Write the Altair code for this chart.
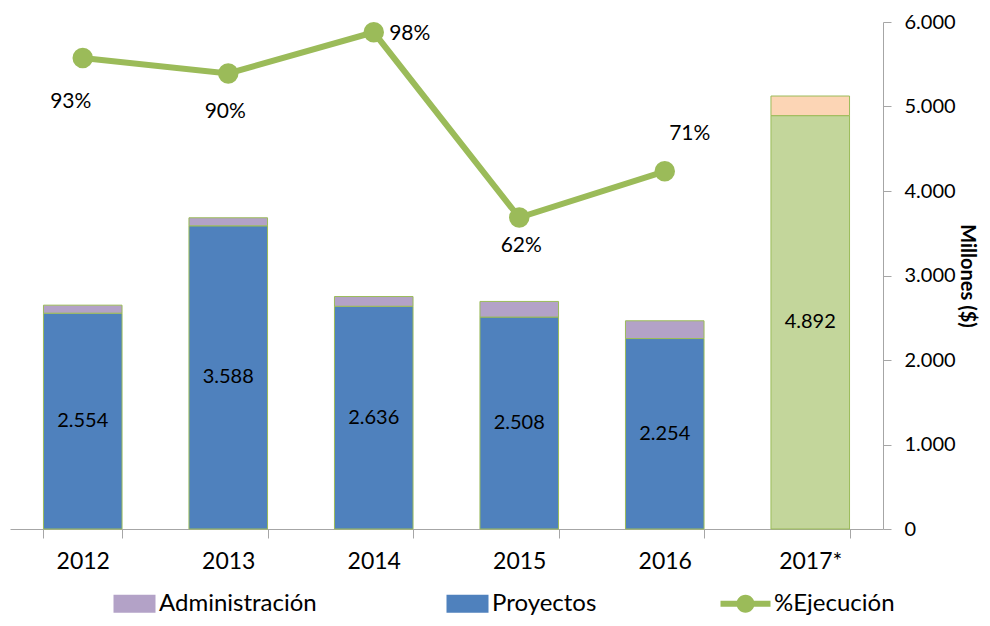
import altair as alt
import pandas as pd

# ---- data ----
years = ["2012", "2013", "2014", "2015", "2016", "2017*"]
proyectos = [2554, 3588, 2636, 2508, 2254, 4892]
administracion = [95, 95, 115, 185, 210, 232]
ejec_years = ["2012", "2013", "2014", "2015", "2016"]
ejecucion = [0.93, 0.90, 0.98, 0.62, 0.71]
ejec_labels = ["93%", "90%", "98%", "62%", "71%"]
y_ticks = [0, 1000, 2000, 3000, 4000, 5000, 6000]

legend_series = ["Administración", "Proyectos", "%Ejecución"]
color_domain = ["Administración", "Proyectos", "%Ejecución",
                "Administración 2017", "Proyectos 2017"]
color_range = ["#B3A2C7", "#4F81BD", "#9BBB59", "#FCD5B5", "#C3D69B"]

RECT = "M-0.68,-0.36H1V0.36H-0.68Z"
LINESYM = "M-1,-0.12H1V0.12H-1Z M0.36,0A0.36,0.36,0,1,1,-0.36,0A0.36,0.36,0,1,1,0.36,0Z"
shape_range = [RECT, RECT, LINESYM, RECT, RECT]

FONT = "Lato"
GRAY = "#A6A6A6"
GREEN = "#9BBB59"

# ---- tables ----
rows = []
for y, p, a in zip(years, proyectos, administracion):
    suffix = " 2017" if y == "2017*" else ""
    rows.append({"year": y, "serie": "Proyectos" + suffix, "value": p, "ord": 1, "base": "Proyectos"})
    rows.append({"year": y, "serie": "Administración" + suffix, "value": a, "ord": 2, "base": "Administración"})
bars_df = pd.DataFrame(rows)

line_df = pd.DataFrame({"year": ejec_years, "pct": ejecucion, "label": ejec_labels,
                        "serie": ["%Ejecución"] * len(ejec_years)})

legend = alt.Legend(
    title=None, orient="none", legendX=95, legendY=556, direction="horizontal",
    values=legend_series, symbolSize=2500, symbolOpacity=1,
    symbolStrokeColor=GREEN, symbolStrokeWidth=1,
    labelFont=FONT, labelFontSize=24, labelColor="#000000",
    columnPadding=121, labelOffset=3, padding=0,
)
color = alt.Color("serie:N", scale=alt.Scale(domain=color_domain, range=color_range), legend=legend)
shape = alt.Shape("serie:N", scale=alt.Scale(domain=color_domain, range=shape_range), legend=legend)

x = alt.X(
    "year:N", sort=years,
    scale=alt.Scale(paddingInner=0.46, paddingOuter=0.23),
    axis=alt.Axis(title=None, labelAngle=0, labelFont=FONT, labelFontSize=23,
                  labelColor="#000000", domainColor=GRAY, tickColor=GRAY,
                  tickSize=9, tickBand="extent", labelPadding=12, grid=False),
)

yaxis = alt.Axis(orient="right", values=y_ticks,
                 labelExpr="replace(format(datum.value, ','), ',', '.')",
                 title="Millones ($)", titleFont=FONT, titleFontSize=20,
                 titleFontWeight="bold", titleColor="#000000", titlePadding=1,
                 labelFont=FONT, labelFontSize=20, labelColor="#000000",
                 domainColor=GRAY, tickColor=GRAY, tickSize=8,
                 labelPadding=13, grid=False)
yscale = alt.Scale(domain=[0, 6000], nice=False)

bars = alt.Chart(bars_df).mark_bar(stroke=GREEN, strokeWidth=1).encode(
    x=x,
    y=alt.Y("value:Q", stack="zero", scale=yscale, axis=yaxis),
    color=color,
    order=alt.Order("ord:Q"),
)

bar_text = alt.Chart(bars_df).transform_filter(
    alt.datum.base == "Proyectos"
).transform_calculate(
    txt="replace(format(datum.value, ','), ',', '.')",
).transform_calculate(
    value="datum.value / 2",
).mark_text(font=FONT, fontSize=20, color="#000000", baseline="middle").encode(
    x=alt.X("year:N", sort=years),
    y=alt.Y("value:Q", stack=None, scale=yscale, axis=yaxis),
    text="txt:N",
)

bar_layer = alt.layer(bars, bar_text)

ypct = alt.Y("pct:Q", scale=alt.Scale(domain=[0.015, 1.0], nice=False), axis=None)
xl = alt.X("year:N", sort=years)

line = alt.Chart(line_df).mark_line(color=GREEN, strokeWidth=6).encode(x=xl, y=ypct)
points = alt.Chart(line_df).mark_circle(color=GREEN, size=420, opacity=1).encode(x=xl, y=ypct)
legend_carrier = alt.Chart(line_df).mark_point(filled=True, opacity=0, size=1).encode(
    x=xl, y=ypct, color=color, shape=shape)

offsets = {"2012": (-12, 44), "2013": (-3, 39), "2014": (36, 2), "2015": (2, 28), "2016": (25, -37)}
labels = []
for yr, (dx, dy) in offsets.items():
    labels.append(
        alt.Chart(line_df).transform_filter(alt.datum.year == yr)
        .mark_text(font=FONT, fontSize=21, color="#000000", dx=dx, dy=dy, baseline="middle")
        .encode(x=xl, y=ypct, text="label:N")
    )

line_layer = alt.layer(line, points, legend_carrier, *labels)

chart = alt.layer(bar_layer, line_layer).resolve_scale(y="independent").properties(
    width=873, height=507,
    autosize=alt.AutoSizeParams(type="none"),
    padding={"left": 2, "top": 14, "right": 99, "bottom": 89},
    background="#FFFFFF",
).configure_view(stroke=None)

chart.save("out.html", embed_options={"renderer": "svg", "actions": False})
